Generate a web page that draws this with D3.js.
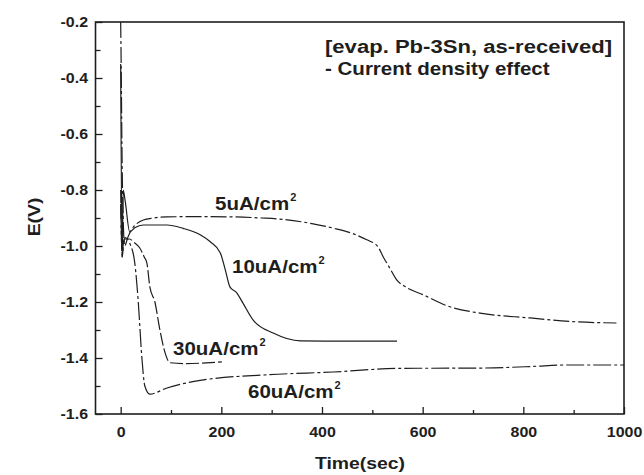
<!DOCTYPE html>
<html><head><meta charset="utf-8">
<script src="https://cdn.jsdelivr.net/npm/d3@7"></script>
<style>
body{margin:0;background:#fff;}
svg{display:block;font-family:"Liberation Sans",Arial,sans-serif;font-weight:bold;}
</style></head>
<body><svg id="c" width="644" height="475"></svg>
<script>
// ---- data ----
const xTicks = [0, 200, 400, 600, 800, 1000];
const xMinorTicks = [100, 300, 500, 700, 900];
const yTicks = [-1.6, -1.4, -1.2, -1.0, -0.8, -0.6, -0.4, -0.2];
const yMinorTicks = [-1.5, -1.3, -1.1, -0.9, -0.7, -0.5, -0.3];

const seriesLabels = ["5uA/cm", "10uA/cm", "30uA/cm", "60uA/cm"];

const t5 = [0, 1, 2, 3, 5, 8, 14, 22, 32, 45, 65, 92, 150, 224, 280, 323, 380, 422, 460, 489, 510, 522, 535, 548, 565, 602, 649, 714, 814, 897, 985];
const e5 = [-0.2, -0.35, -0.55, -0.72, -0.9, -1.0, -0.97, -0.94, -0.92, -0.907, -0.9, -0.896, -0.895, -0.896, -0.9, -0.905, -0.92, -0.936, -0.955, -0.978, -1.0, -1.04, -1.08, -1.12, -1.145, -1.175, -1.214, -1.24, -1.257, -1.27, -1.275];

const t10 = [0, 3, 5, 9, 18, 28, 45, 92, 124, 158, 178, 198, 208, 217, 231, 243, 263, 303, 357, 450, 549];
const e10 = [-0.35, -1.04, -0.8, -0.84, -0.95, -0.935, -0.925, -0.925, -0.937, -0.96, -0.985, -1.025, -1.086, -1.146, -1.168, -1.204, -1.264, -1.311, -1.339, -1.34, -1.34];

const t30 = [0, 3, 6, 9, 18, 25, 38, 47, 52, 58, 68, 78, 88, 98, 124, 201];
const e30 = [-0.8, -1.04, -0.99, -0.975, -0.975, -0.985, -1.007, -1.04, -1.06, -1.146, -1.2, -1.3, -1.38, -1.417, -1.42, -1.414];

const t60 = [0, 3, 6, 9, 18, 28, 35, 42, 48, 58, 92, 158, 290, 422, 555, 714, 820, 880, 1000];
const e60 = [-0.85, -1.03, -0.98, -0.97, -0.99, -1.06, -1.2, -1.396, -1.5, -1.529, -1.507, -1.48, -1.46, -1.45, -1.437, -1.436, -1.43, -1.425, -1.425];

// ---- chart ----
const svg = d3.select("#c");
const L = 95.5, R = 624, T = 22, B = 414;
const x = d3.scaleLinear().domain([-50, 1000]).range([L, R]);
const y = d3.scaleLinear().domain([-1.6, -0.2]).range([B, T]);
const ink = "#1e1e1e";
const WIDEN = 1.14;

function widen(sel) {
  sel.each(function () {
    const w = this.getComputedTextLength();
    d3.select(this).attr("textLength", w * WIDEN).attr("lengthAdjust", "spacingAndGlyphs");
  });
}

// x axis
const gx = svg.append("g").attr("transform", `translate(0,${B})`)
  .call(d3.axisBottom(x).tickValues(xTicks).tickSize(-7).tickPadding(13).tickFormat(d3.format("d")));
gx.select(".domain").remove();
gx.selectAll("line").attr("stroke", ink).attr("stroke-width", 1.3);
gx.selectAll("text").attr("font-size", 14).attr("fill", ink).attr("font-family", null).call(widen);
const gxm = svg.append("g").attr("transform", `translate(0,${B})`)
  .call(d3.axisBottom(x).tickValues(xMinorTicks).tickSize(-4).tickFormat(""));
gxm.select(".domain").remove();
gxm.selectAll("line").attr("stroke", ink).attr("stroke-width", 1.3);

// y axis
const gy = svg.append("g").attr("transform", `translate(${L},0)`)
  .call(d3.axisLeft(y).tickValues(yTicks).tickSize(-7).tickPadding(7.5).tickFormat(d3.format(".1f")));
gy.select(".domain").remove();
gy.selectAll("line").attr("stroke", ink).attr("stroke-width", 1.3);
gy.selectAll("text").attr("font-size", 14).attr("fill", ink).attr("font-family", null)
  .text(d => d3.format(".1f")(d).replace("−", "-")).call(widen);
const gym = svg.append("g").attr("transform", `translate(${L},0)`)
  .call(d3.axisLeft(y).tickValues(yMinorTicks).tickSize(-5).tickFormat(""));
gym.select(".domain").remove();
gym.selectAll("line").attr("stroke", ink).attr("stroke-width", 1.3);

// frame
svg.append("rect").attr("x", L).attr("y", T).attr("width", R - L).attr("height", B - T)
  .attr("fill", "none").attr("stroke", ink).attr("stroke-width", 1.6);

// curves
const series = [
  { t: t5, e: e5, dash: "16,3,3,3" },
  { t: t10, e: e10, dash: null },
  { t: t30, e: e30, dash: "13,3" },
  { t: t60, e: e60, dash: "18,3,3,3" }
];
const line = d3.line().x(d => x(d[0])).y(d => y(d[1])).curve(d3.curveMonotoneX);
const plot = svg.append("g");
series.forEach(s => {
  plot.append("path").datum(d3.zip(s.t, s.e))
    .attr("d", line).attr("fill", "none").attr("stroke", ink)
    .attr("stroke-width", 1.2).attr("stroke-dasharray", s.dash);
});

// series labels with superscript
const labelPos = [[215, 210], [232, 273], [173, 355], [248, 398]];
seriesLabels.forEach((lab, i) => {
  const [lx, ly] = labelPos[i];
  const tx = svg.append("text").attr("x", lx).attr("y", ly).attr("font-size", 18).attr("fill", ink).text(lab);
  widen(tx);
  const w = +tx.attr("textLength");
  svg.append("text").attr("x", lx + w + 1).attr("y", ly - 9).attr("font-size", 11).attr("fill", ink).text("2");
});

// annotation
const a1 = svg.append("text").attr("x", 325).attr("y", 53).attr("font-size", 18).attr("fill", ink).text("[evap. Pb-3Sn, as-received]");
a1.attr("textLength", 287).attr("lengthAdjust", "spacingAndGlyphs");
const a2 = svg.append("text").attr("x", 325).attr("y", 75).attr("font-size", 18).attr("fill", ink).text("- Current density effect");
widen(a2);

// axis titles
const xt = svg.append("text").attr("x", 360).attr("y", 469).attr("text-anchor", "middle").attr("font-size", 17).attr("fill", ink).text("Time(sec)");
widen(xt);
const yt = svg.append("text").attr("transform", "translate(40,217) rotate(-90)").attr("text-anchor", "middle").attr("font-size", 17).attr("fill", ink).text("E(V)");
widen(yt);
</script></body></html>
